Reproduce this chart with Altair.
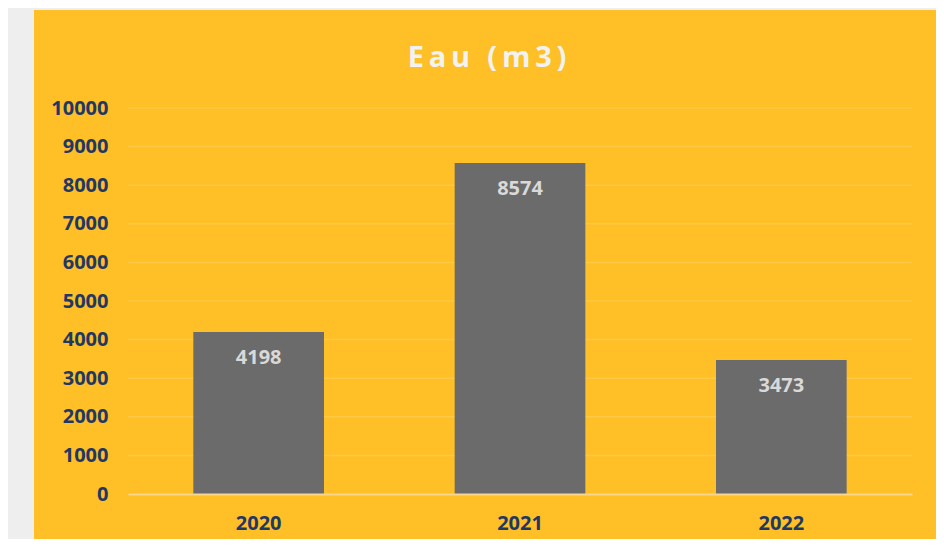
import altair as alt
import pandas as pd

years = ["2020", "2021", "2022"]
values = [4198, 8574, 3473]
y_ticks = [0, 1000, 2000, 3000, 4000, 5000, 6000, 7000, 8000, 9000, 10000]

df = pd.DataFrame({"year": years, "value": values})
grid_df = pd.DataFrame({"value": y_ticks[1:]})

ORANGE = "#FFBF27"
NAVY = "#1F3864"
FONT = "Open Sans"

bg = alt.Chart(alt.Data(values=[{"a": 1}])).mark_rect(color=ORANGE).encode(
    x=alt.value(-94), x2=alt.value(820), y=alt.value(-98), y2=alt.value(460)
)

yscale = alt.Scale(domain=[0, 10000], nice=False)
xscale = alt.Scale(paddingInner=0.5, paddingOuter=0.25)

xaxis = alt.Axis(title=None, labelAngle=0, ticks=False, domain=True,
                 domainColor="#F8D690", domainWidth=2, labelPadding=19,
                 labelFont=FONT, labelFontSize=20, labelFontWeight="bold",
                 labelColor=NAVY, grid=False, zindex=1)
yaxis = alt.Axis(title=None, values=y_ticks, ticks=False, domain=False,
                 grid=False, labelPadding=20, labelFont=FONT, labelFontSize=20,
                 labelFontWeight="bold", labelColor=NAVY, zindex=1,
                 format="d", labelOverlap=False)

xenc = alt.X("year:N", sort=years, scale=xscale, axis=xaxis)
yenc = alt.Y("value:Q", scale=yscale, axis=yaxis)

grid = alt.Chart(grid_df).mark_rule(color="#FFC845", strokeWidth=1.5).encode(
    y=yenc, x=alt.value(0), x2=alt.value(784)
)

base = alt.Chart(df)

bars = base.mark_bar(color="#6B6B6B").encode(x=xenc, y=yenc)

labels = base.mark_text(dy=26, baseline="middle", align="center", font=FONT,
                        fontSize=20, fontWeight="bold", color="#D9D9D9").encode(
    x=xenc, y=yenc, text="value:Q"
)

title_text = "E\u2009a\u2009u\u2009 \u2009(\u2009m\u20093\u2009)"

chart = alt.layer(bg, grid, bars, labels).properties(
    width=784, height=386,
    background="#EEEEEE",
    padding={"left": 120, "top": 100, "right": 24, "bottom": 45},
    autosize=alt.AutoSizeParams(type="none"),
    title=alt.Title(title_text, font=FONT, fontSize=29, fontWeight="bold",
                    color="#F2F2F2", anchor="middle", frame="group",
                    baseline="alphabetic", offset=-86, dx=-33),
).configure_view(stroke=None)

chart.save("out.html", embed_options={"renderer": "svg", "actions": False})
